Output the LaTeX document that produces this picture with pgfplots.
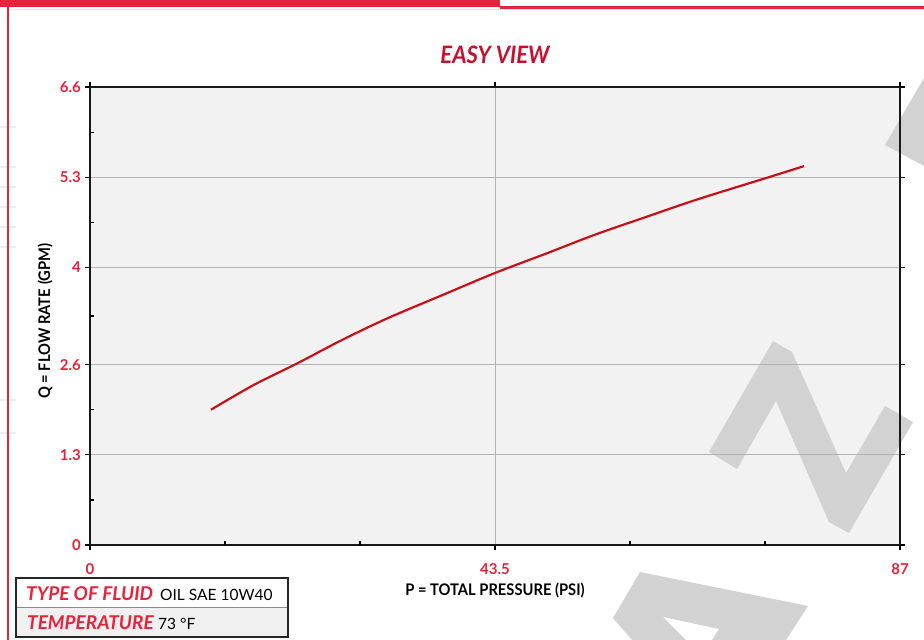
\documentclass[border=0pt]{standalone}
\usepackage{pgfplots}
\pgfplotsset{compat=1.18}
\usepackage{fontspec}
\setmainfont{Lato}
\newfontfamily\condfont[FakeStretch=0.92]{Lato}
\definecolor{framered}{HTML}{E0263A}
\definecolor{tickred}{HTML}{E8223A}
\definecolor{curvered}{HTML}{C8101A}
\definecolor{titlered}{HTML}{C8102E}
\definecolor{plotbg}{HTML}{F2F2F2}
\definecolor{gridgray}{HTML}{B4B4B4}
\definecolor{wm}{HTML}{D2D2D2}
\begin{document}
\begin{tikzpicture}
\useasboundingbox (0pt,0pt) rectangle (924pt,-640pt);
\begin{scope}[x=1pt,y=-1pt]
  \fill[white] (0,0) rectangle (924,640);
  % faint background lines at the left
  \foreach \yy in {127,167,187,207,227,247,400,433}
    \draw[line width=1.2pt, black!7] (0,\yy) -- (16,\yy);
  % red frame
  \fill[framered] (0,0) rectangle (500,7);
  \draw[framered, line width=2.4pt] (500,7.6) -- (924,7.6);
  \draw[black!10, line width=0.8pt] (9,9.8) -- (924,9.8);
  \draw[framered, line width=2.4pt] (8,7) -- (8,640);
  % plot background
  \fill[plotbg] (90,87) rectangle (900,545);
  % watermark shapes
  \fill[wm] (709,452) -- (773,341) -- (792,352) -- (846,473) -- (885,406) -- (913,422)
        -- (849,533) -- (829,522) -- (776,401) -- (737,469) -- cycle;
  \fill[wm] (885,145) -- (924,78) -- (924,166) -- cycle;
  \fill[wm, even odd rule] (613,618) -- (640,572) -- (808,606) -- (786,640) -- (632,640) -- cycle
        (663,617) -- (719,629) -- (712,640) -- (686,640) -- cycle;
\end{scope}
\begin{axis}[
  at={(90pt,-545pt)}, anchor=south west,
  scale only axis, width=810pt, height=458pt,
  xmin=0, xmax=87, ymin=0, ymax=6.6,
  xtick={0,43.5,87}, xticklabels={0,43.5,87},
  ytick={0,1.3,2.6,4,5.3,6.6}, yticklabels={0,1.3,2.6,4,5.3,6.6},
  tick align=outside, major tick length=5pt,
  tick style={black, line width=1.2pt},
  xmajorgrids, ymajorgrids,
  major grid style={gridgray, line width=0.9pt},
  axis line style={black!90, line width=1.5pt},
  ticklabel style={font=\bfseries\fontsize{15}{17}\selectfont, text=tickred},
  xticklabel style={anchor=base, yshift=-24pt, inner sep=0pt},
  yticklabel style={anchor=east, xshift=-4pt, inner sep=0pt},
  clip=false,
]
\addplot[curvered, line width=2.2pt, smooth] coordinates {
  (13.0,1.95) (17.5,2.30) (22.3,2.62) (27,2.95) (32,3.27) (38,3.61)
  (43.5,3.92) (49,4.20) (54.2,4.47) (60,4.74) (65,4.97) (70,5.18)
  (72.9,5.30) (76.7,5.46)
};
% minor ticks pointing inward
\pgfplotsinvokeforeach{0.65,1.95,3.3,4.65,5.95}{
  \draw[black, line width=1.2pt] (axis cs:0,#1) -- ++(4pt,0pt);
}
\pgfplotsinvokeforeach{14.5,29,58,72.5}{
  \draw[black, line width=1.2pt] (axis cs:#1,0) -- ++(0pt,4pt);
}
\end{axis}
\begin{scope}[x=1pt,y=-1pt]
  % title
  \node[anchor=base, inner sep=0pt, text=titlered] at (495,63)
    {\condfont\bfseries\itshape\fontsize{24}{27}\selectfont EASY VIEW};
  % axis labels
  \node[anchor=base, inner sep=0pt] at (495,595)
    {\condfont\bfseries\fontsize{16}{18}\selectfont P = TOTAL PRESSURE (PSI)};
  \node[anchor=base, inner sep=0pt, rotate=90] at (50,321)
    {\condfont\bfseries\fontsize{16}{18}\selectfont Q = FLOW RATE\hspace{4pt}(GPM)};
  % info box
  \fill[white] (16,578) rectangle (288,607);
  \fill[black!6] (16,607) rectangle (288,637);
  \draw[black!45, line width=0.8pt] (16,607) -- (288,607);
  \draw[black!85, line width=1.3pt] (16,578) rectangle (288,637);
  \node[anchor=base west, inner sep=0pt, text=tickred] at (26,600)
    {\bfseries\itshape\fontsize{19}{21}\selectfont TYPE OF FLUID};
  \node[anchor=base west, inner sep=0pt] at (160,600)
    {\fontsize{15.5}{17}\selectfont OIL SAE 10W40};
  \node[anchor=base west, inner sep=0pt, text=tickred] at (27,629)
    {\bfseries\itshape\fontsize{19}{21}\selectfont TEMPERATURE};
  \node[anchor=base west, inner sep=0pt] at (158,629)
    {\fontsize{15.5}{17}\selectfont 73 °F};
\end{scope}
\end{tikzpicture}
\end{document}
